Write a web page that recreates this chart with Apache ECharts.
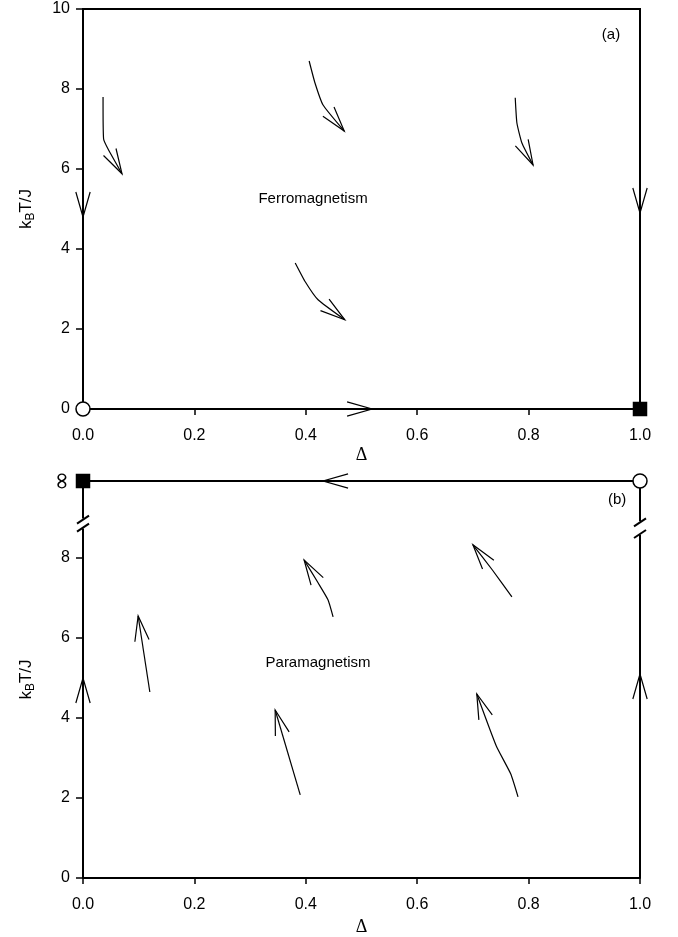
<!DOCTYPE html>
<html>
<head>
<meta charset="utf-8">
<script src="https://cdn.jsdelivr.net/npm/echarts@6/dist/echarts.min.js"></script>
<style>
  html, body { margin: 0; padding: 0; background: #fff; }
  #chart { width: 678px; height: 937px; }
</style>
</head>
<body>
<div id="chart"></div>
<script>
// flow trajectories, panel (a): [delta, kT/J] points, last point is the arrow tip
const flowA = [
  [[0.036, 7.8], [0.037, 6.75], [0.045, 6.5], [0.07, 5.88]],
  [[0.406, 8.7], [0.4165, 8.15], [0.431, 7.6], [0.469, 6.95]],
  [[0.776, 7.78], [0.779, 7.15], [0.788, 6.65], [0.808, 6.1]],
  [[0.381, 3.65], [0.399, 3.18], [0.422, 2.73], [0.47, 2.23]],
  // along the boundaries
  [[0, 5.5], [0, 4.8]],
  [[1, 5.6], [1, 4.9]],
  [[0.46, 0], [0.519, 0]]
];

// INF stands for the T = infinity line in panel (b)
const INF = 9.925;
const flowB = [
  [[0.12, 4.65], [0.099, 6.55]],
  [[0.449, 6.53], [0.44, 6.95], [0.422, 7.38], [0.397, 7.95]],
  [[0.77, 7.03], [0.735, 7.7], [0.7, 8.33]],
  [[0.39, 2.08], [0.345, 4.2]],
  [[0.781, 2.03], [0.768, 2.6], [0.742, 3.3], [0.707, 4.6]],
  [[0, 4.4], [0, 5.0]],
  [[1, 4.5], [1, 5.1]],
  [[0.48, INF], [0.431, INF]]
];

// panel (b) frame pieces (axis is broken between 8.8 and 9)
const frameB = [
  [[0, INF], [1, INF]],
  [[0, 0], [0, 8.74]],
  [[0, 8.99], [0, INF]],
  [[1, 0], [1, 8.58]],
  [[1, 8.92], [1, INF]]
];
const breaksB = [[0, 8.76], [0, 8.96], [1, 8.6], [1, 8.89]];

// fixed points
const openA = [[0, 0]];
const filledA = [[1, 0]];
const openB = [[1, INF]];
const filledB = [[0, INF]];

const textA = [{ name: 'Ferromagnetism', value: [0.413, 5.25] }, { name: '(a)', value: [0.948, 9.35] }];
const textB = [{ name: 'Paramagnetism', value: [0.422, 5.38] }, { name: '(b)', value: [0.959, 9.45] }];

const FONT = '"Liberation Sans", Arial, sans-serif';
const chart = echarts.init(document.getElementById('chart'));

function arrowSeries(paths, idx) {
  return {
    type: 'custom',
    xAxisIndex: idx, yAxisIndex: idx,
    clip: false,
    z: 5,
    data: paths.map((p, i) => [i]),
    renderItem: function (params, api) {
      const pts = paths[api.value(0)].map(p => api.coord(p));
      const tip = pts[pts.length - 1];
      const prev = pts[pts.length - 2];
      const ang = Math.atan2(prev[1] - tip[1], prev[0] - tip[0]);
      const len = 26, half = 16 * Math.PI / 180;
      const b1 = [tip[0] + len * Math.cos(ang + half), tip[1] + len * Math.sin(ang + half)];
      const b2 = [tip[0] + len * Math.cos(ang - half), tip[1] + len * Math.sin(ang - half)];
      const st = { stroke: '#000', lineWidth: 1.2, fill: null };
      return {
        type: 'group',
        children: [
          { type: 'polyline', shape: { points: pts, smooth: pts.length > 2 ? 0.15 : 0 }, style: st },
          { type: 'polyline', shape: { points: [b1, tip, b2] }, style: st }
        ]
      };
    }
  };
}

function frameSeries() {
  return {
    type: 'custom',
    xAxisIndex: 1, yAxisIndex: 1,
    clip: false,
    z: 4,
    data: frameB.map((p, i) => [i]).concat(breaksB.map((p, i) => [100 + i])),
    renderItem: function (params, api) {
      const k = api.value(0);
      const st = { stroke: '#000', lineWidth: 2, fill: null };
      if (k < 100) {
        return { type: 'polyline', shape: { points: frameB[k].map(p => api.coord(p)) }, style: st };
      }
      const c = api.coord(breaksB[k - 100]);
      return { type: 'line', shape: { x1: c[0] - 6, y1: c[1] + 4, x2: c[0] + 6, y2: c[1] - 4 }, style: st };
    }
  };
}

function pointSeries(data, idx, symbol, size, fill) {
  return {
    type: 'scatter', xAxisIndex: idx, yAxisIndex: idx, clip: false, z: 10,
    symbol: symbol, symbolSize: size, data: data,
    itemStyle: { color: fill, borderColor: '#000', borderWidth: 1.5, opacity: 1 }
  };
}

function textSeries(data, idx) {
  return {
    type: 'scatter', xAxisIndex: idx, yAxisIndex: idx, clip: false, symbolSize: 0,
    data: data, silent: true,
    label: { show: true, position: 'inside', formatter: '{b}', color: '#000', opacity: 1, fontSize: 15, fontFamily: FONT }
  };
}

function xAxis(idx) {
  return {
    type: 'value', gridIndex: idx, min: 0, max: 1, interval: 0.2,
    name: 'Δ', nameLocation: 'middle', nameGap: idx === 0 ? 37 : 40,
    nameTextStyle: { fontFamily: '"Liberation Serif", "DejaVu Serif", serif', fontSize: 18, color: '#000' },
    axisLine: { show: true, onZero: false, lineStyle: { color: '#000', width: 2 } },
    axisTick: { show: true, inside: false, length: 6, lineStyle: { color: '#000', width: 1.5 } },
    axisLabel: { color: '#000', fontSize: 16, fontFamily: FONT, margin: 19, formatter: v => v.toFixed(1) },
    splitLine: { show: false }
  };
}

function yAxis(idx) {
  return {
    type: 'value', gridIndex: idx, min: 0, max: idx === 0 ? 10 : INF, interval: 2,
    name: '{n|k}{s|B}{n|T/J}', nameLocation: 'middle', nameGap: 46,
    nameTextStyle: {
      color: '#000', fontFamily: FONT,
      rich: {
        n: { fontSize: 17, fontFamily: FONT, color: '#000' },
        s: { fontSize: 12, fontFamily: FONT, color: '#000', padding: [9, 0, 0, 0] }
      }
    },
    axisLine: { show: idx === 0, onZero: false, lineStyle: { color: '#000', width: 2 } },
    axisTick: { show: true, inside: false, length: 7, lineStyle: { color: '#000', width: 1.5 } },
    axisLabel: { color: '#000', fontSize: 16, fontFamily: FONT, margin: 13, formatter: v => (v > 9.5 && idx === 1) ? '' : String(v) },
    splitLine: { show: false }
  };
}

chart.setOption({
  animation: false,
  backgroundColor: '#fff',
  grid: [
    { left: 83, top: 9, width: 557, height: 400, show: true, borderColor: '#000', borderWidth: 2, backgroundColor: 'transparent' },
    { left: 83, top: 481, width: 557, height: 397 }
  ],
  xAxis: [xAxis(0), xAxis(1)],
  yAxis: [yAxis(0), yAxis(1)],
  series: [
    arrowSeries(flowA, 0),
    arrowSeries(flowB, 1),
    frameSeries(),
    pointSeries(openA, 0, 'circle', 14, '#fff'),
    pointSeries(filledA, 0, 'rect', 13, '#000'),
    pointSeries(openB, 1, 'circle', 14, '#fff'),
    pointSeries(filledB, 1, 'rect', 13, '#000'),
    textSeries(textA, 0),
    textSeries(textB, 1),
    {
      type: 'scatter', xAxisIndex: 1, yAxisIndex: 1, clip: false, symbolSize: 0,
      data: [[0, INF]], silent: true,
      label: { show: true, position: 'inside', offset: [0, -20], rotate: 90, formatter: '∞', color: '#000', opacity: 1, fontSize: 24, fontFamily: '"DejaVu Sans", sans-serif' }
    }
  ]
});
</script>
</body>
</html>
